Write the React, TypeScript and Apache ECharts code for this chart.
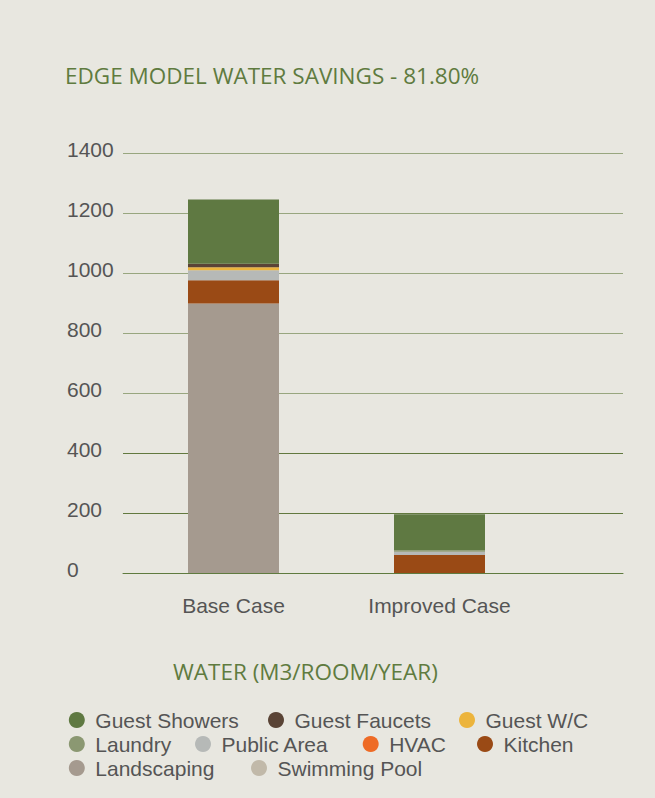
import React, { useEffect, useRef } from "react";
import * as echarts from "echarts";

const categories = ["Base Case", "Improved Case"];
const seriesNames = [
  "Swimming Pool",
  "Landscaping",
  "Kitchen",
  "HVAC",
  "Public Area",
  "Laundry",
  "Guest W/C",
  "Guest Faucets",
  "Guest Showers",
];
const swimmingPool = [0, 0];
const landscaping = [898, 0];
const kitchen = [78, 60];
const hvac = [0, 0];
const publicArea = [33, 11];
const laundry = [0, 5];
const guestWC = [10, 0];
const guestFaucets = [12, 0];
const guestShowers = [214, 120];
const yTicks = [0, 200, 400, 600, 800, 1000, 1200, 1400];

const seriesValues = [
  swimmingPool,
  landscaping,
  kitchen,
  hvac,
  publicArea,
  laundry,
  guestWC,
  guestFaucets,
  guestShowers,
];
const seriesColors = [
  "#c1b9a9",
  "#a59a8f",
  "#9a4a15",
  "#ee6b26",
  "#b6b9b7",
  "#8b9872",
  "#ecb43c",
  "#5a4436",
  "#5f7942",
];

// legend layout: [name, circle centre x, centre y]
const legendLayout: [string, number, number][] = [
  ["Guest Showers", 76.8, 720.5],
  ["Guest Faucets", 276, 720.5],
  ["Guest W/C", 467, 720.5],
  ["Laundry", 76.8, 744.5],
  ["Public Area", 203, 744.5],
  ["HVAC", 370.7, 744.5],
  ["Kitchen", 485, 744.5],
  ["Landscaping", 76.8, 768.5],
  ["Swimming Pool", 259, 768.5],
];

const GREEN = "#5f7b3f";
const GREY_TEXT = "#555555";

export default function App() {
  const ref = useRef<HTMLDivElement>(null);
  useEffect(() => {
    document.body.style.margin = "0";
    document.body.style.background = "#e8e7e0";
    if (!ref.current) return;
    const chart = echarts.init(ref.current, undefined, { renderer: "svg" });
    const top = 153;
    const bottom = 798 - 573;

    const option: any = {
      animation: false,
      backgroundColor: "#e8e7e0",
      title: [
        {
          text: "EDGE MODEL WATER SAVINGS - 81.80%",
          left: 65,
          top: 64,
          padding: 0,
          textStyle: {
            fontFamily: "Open Sans",
            fontSize: 22.5,
            fontWeight: "normal",
            color: GREEN,
          },
        },
        {
          text: "WATER (M3/ROOM/YEAR)",
          left: 173,
          top: 660,
          padding: 0,
          textStyle: {
            fontFamily: "Open Sans",
            fontSize: 22.5,
            fontWeight: "normal",
            color: GREEN,
          },
        },
      ],
      legend: legendLayout.map(([name, cx, cy]) => ({
        data: [name],
        left: cx - 8,
        top: cy - 11,
        padding: 0,
        itemWidth: 27,
        itemHeight: 16,
        icon: "circle",
        textStyle: {
          fontFamily: "Liberation Sans",
          fontSize: 21,
          color: GREY_TEXT,
        },
      })),
      grid: [
        // bars
        { left: 130.5, right: 112.5, top, bottom, containLabel: false },
        // gridlines and y labels
        { left: 123, right: 32, top, bottom, containLabel: false },
      ],
      xAxis: [
        {
          type: "category",
          gridIndex: 0,
          data: categories,
          axisLine: { show: false },
          axisTick: { show: false },
          splitLine: { show: false },
          axisLabel: {
            fontFamily: "Liberation Sans",
            fontSize: 21,
            color: GREY_TEXT,
            margin: 22,
          },
        },
        {
          type: "value",
          gridIndex: 1,
          min: 0,
          max: 1,
          axisLine: { show: true, lineStyle: { color: GREEN, width: 1 } },
          axisTick: { show: false },
          splitLine: { show: false },
          axisLabel: { show: false },
        },
      ],
      yAxis: [
        {
          type: "value",
          gridIndex: 0,
          min: yTicks[0],
          max: yTicks[yTicks.length - 1],
          interval: 200,
          show: false,
        },
        {
          type: "value",
          gridIndex: 1,
          min: yTicks[0],
          max: yTicks[yTicks.length - 1],
          interval: 200,
          axisLine: { show: false },
          axisTick: { show: false },
          axisLabel: {
            align: "left",
            verticalAlign: "bottom",
            lineHeight: 8,
            margin: 56,
            fontFamily: "Liberation Sans",
            fontSize: 21,
            color: GREY_TEXT,
            formatter: (v: number) => String(v),
          },
          splitLine: {
            show: true,
            lineStyle: {
              width: 1,
              color: [
                "#5f7a3f",
                "#62793f",
                "#62793f",
                "#98a67f",
                "#98a67f",
                "#98a67f",
                "#98a67f",
                "#98a67f",
              ],
            },
          },
        },
      ],
      series: seriesNames.map((name, i) => ({
        name,
        type: "bar",
        stack: "total",
        xAxisIndex: 0,
        yAxisIndex: 0,
        barWidth: 91,
        itemStyle: { color: seriesColors[i] },
        data: seriesValues[i],
      })),
    };
    chart.setOption(option);
    return () => chart.dispose();
  }, []);
  return <div ref={ref} style={{ width: 655, height: 798 }} />;
}
